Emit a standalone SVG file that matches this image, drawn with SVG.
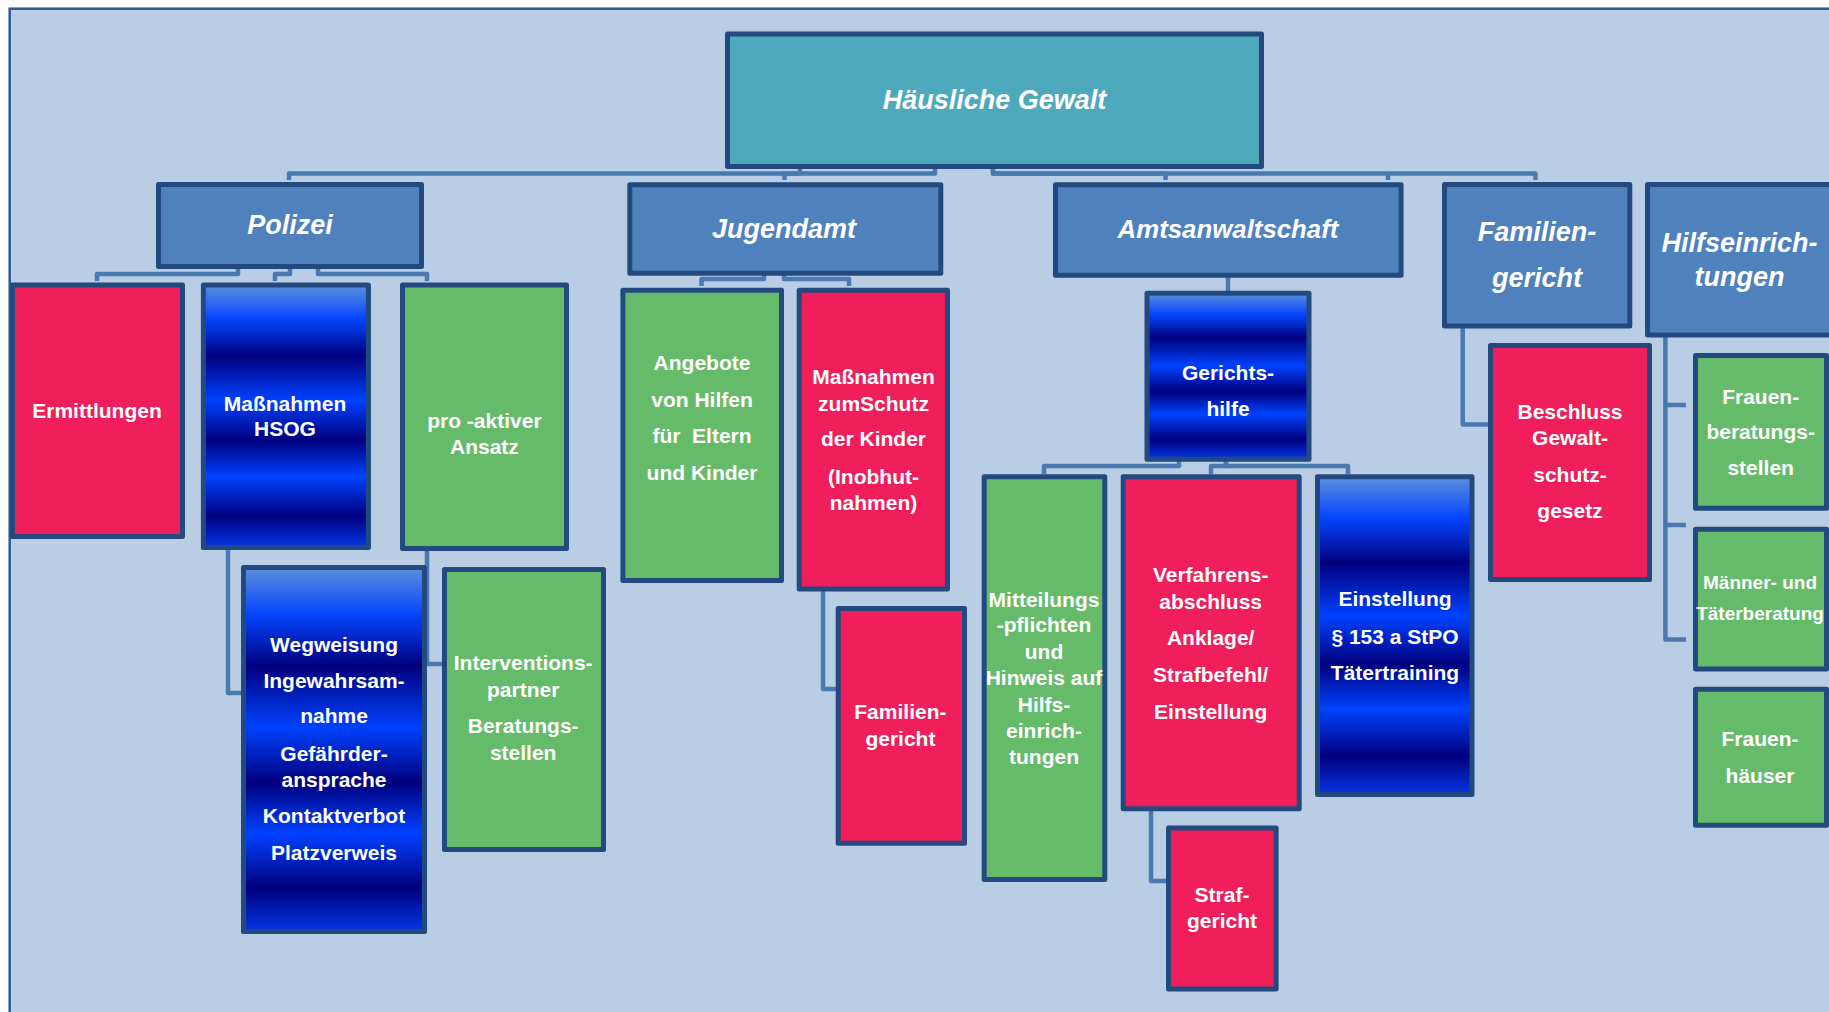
<svg xmlns="http://www.w3.org/2000/svg" width="1829" height="1012" viewBox="0 0 1829 1012">
<defs>
<linearGradient id="ocean" x1="0" y1="0" x2="0" y2="1">
<stop offset="0" stop-color="#5C90DC"/>
<stop offset="0.13" stop-color="#0545FF"/>
<stop offset="0.27" stop-color="#00007E"/>
<stop offset="0.44" stop-color="#0042FF"/>
<stop offset="0.59" stop-color="#00007E"/>
<stop offset="0.73" stop-color="#0042FF"/>
<stop offset="0.88" stop-color="#00007E"/>
<stop offset="1" stop-color="#0536E6"/>
</linearGradient>
<style>
.bg{fill:#B9CDE4;stroke:#2D5A95;stroke-width:2.5}
.box{stroke:#224A7E;stroke-width:5;stroke-linejoin:round}
.root{fill:#4EA9BD}
.lvl{fill:#4F81BD}
.red{fill:#F01E5A}
.green{fill:#66BB6A}
.grad{fill:url(#ocean)}
.conn{fill:none;stroke:#4A78B1;stroke-width:4.5;stroke-linejoin:round}
.t{font-family:'Liberation Sans',Arial,sans-serif;font-weight:bold;fill:#FFFFFF;text-anchor:middle;font-size:21px}
.h{font-style:italic;font-size:27px}
</style>
</defs>
<rect x="0" y="0" width="1829" height="1012" fill="#FFFFFF"/>
<rect class="bg" x="9.7" y="8.7" width="1830" height="1010"/>

<g id="connectors">
<path class="conn" d="M289 180 V173.5 H935 V168"/>
<path class="conn" d="M784.5 180 V173.5 H800 V168"/>
<path class="conn" d="M1165.5 180 V173.5 H993 V168"/>
<path class="conn" d="M993 168 V173.5 H1535.5 V180"/>
<path class="conn" d="M1388 173.5 V180"/>
<path class="conn" d="M97 281 V274 H238 V268"/>
<path class="conn" d="M275 281 V274 H290 V268"/>
<path class="conn" d="M318 268 V274 H427 V281"/>
<path class="conn" d="M701.5 286 V279 H764 V274"/>
<path class="conn" d="M784 274 V279 H849 V286"/>
<path class="conn" d="M1228 276 V292"/>
<path class="conn" d="M1044 474 V466 H1179 V460"/>
<path class="conn" d="M1211 474 V466 H1226 V460"/>
<path class="conn" d="M1226 460 V466 H1348 V474"/>
<path class="conn" d="M228 549 V693 H243"/>
<path class="conn" d="M427 550 V664 H444"/>
<path class="conn" d="M823 590 V689 H838"/>
<path class="conn" d="M1151 810 V881 H1168"/>
<path class="conn" d="M1462.7 327 V424.6 H1489"/>
<path class="conn" d="M1665.4 336 V639.5 H1686"/>
<path class="conn" d="M1665.4 405 H1686"/>
<path class="conn" d="M1665.4 525 H1686"/>
</g>

<g id="root">
<rect class="box root" x="727.5" y="34" width="534" height="132.5"/>
<text class="t h" x="994.5" y="108.5">Häusliche Gewalt</text>
</g>

<g id="polizei">
<rect class="box lvl" x="158.5" y="184.5" width="263" height="82"/>
<text class="t h" x="290" y="234" font-size="26.5">Polizei</text>
</g>
<g id="jugendamt">
<rect class="box lvl" x="629.8" y="184.8" width="311" height="88.4"/>
<text class="t h" x="784" y="237.5">Jugendamt</text>
</g>
<g id="amtsanwaltschaft">
<rect class="box lvl" x="1055.5" y="184.8" width="345.6" height="90.4"/>
<text class="t h" x="1228" y="238.3" style="font-size:25.8px">Amtsanwaltschaft</text>
</g>
<g id="familiengericht">
<rect class="box lvl" x="1444.5" y="184.5" width="185.3" height="141.6"/>
<text class="t h"><tspan x="1537" y="241">Familien-</tspan><tspan x="1537" y="287">gericht</tspan></text>
</g>
<g id="hilfseinrichtungen">
<rect class="box lvl" x="1647.5" y="184.5" width="185" height="150.5"/>
<text class="t h"><tspan x="1739.5" y="252">Hilfseinrich-</tspan><tspan x="1739.5" y="286">tungen</tspan></text>
</g>

<g id="ermittlungen">
<rect class="box red" x="12.5" y="285" width="170" height="251.5"/>
<text class="t" x="97" y="418">Ermittlungen</text>
</g>
<g id="massnahmen-hsog">
<rect class="box grad" x="203.4" y="285" width="165" height="262.5"/>
<text class="t"><tspan x="285" y="410.7">Maßnahmen</tspan><tspan x="285" y="436.4">HSOG</tspan></text>
</g>
<g id="pro-aktiver-ansatz">
<rect class="box green" x="402.5" y="285" width="164" height="263.5"/>
<text class="t"><tspan x="484.4" y="427.5">pro -aktiver</tspan><tspan x="484.4" y="453.6">Ansatz</tspan></text>
</g>
<g id="wegweisung">
<rect class="box grad" x="243.5" y="567.5" width="181" height="364"/>
<text class="t"><tspan x="334" y="651.7">Wegweisung</tspan><tspan x="334" y="688.3">Ingewahrsam-</tspan><tspan x="334" y="723.3">nahme</tspan><tspan x="334" y="760.7">Gefährder-</tspan><tspan x="334" y="787.3">ansprache</tspan><tspan x="334" y="823.3">Kontaktverbot</tspan><tspan x="334" y="860">Platzverweis</tspan></text>
</g>
<g id="interventionspartner">
<rect class="box green" x="444.5" y="569.5" width="159" height="280"/>
<text class="t"><tspan x="523.2" y="670">Interventions-</tspan><tspan x="523.2" y="697.3">partner</tspan><tspan x="523.2" y="733.3">Beratungs-</tspan><tspan x="523.2" y="760">stellen</tspan></text>
</g>

<g id="angebote">
<rect class="box green" x="622.9" y="290.2" width="158.6" height="290.3"/>
<text class="t" xml:space="preserve"><tspan x="702" y="369.6">Angebote</tspan><tspan x="702" y="407">von Hilfen</tspan><tspan x="702" y="443">für  Eltern</tspan><tspan x="702" y="479.6">und Kinder</tspan></text>
</g>
<g id="schutz-der-kinder">
<rect class="box red" x="799.2" y="290.2" width="148.3" height="298.7"/>
<text class="t"><tspan x="873.5" y="384">Maßnahmen</tspan><tspan x="873.5" y="410.7">zumSchutz</tspan><tspan x="873.5" y="446.4">der Kinder</tspan><tspan x="873.5" y="484">(Inobhut-</tspan><tspan x="873.5" y="510">nahmen)</tspan></text>
</g>
<g id="familiengericht-jugendamt">
<rect class="box red" x="838.2" y="608.5" width="126.3" height="234.7"/>
<text class="t"><tspan x="900.4" y="719">Familien-</tspan><tspan x="900.4" y="745.7">gericht</tspan></text>
</g>

<g id="gerichtshilfe">
<rect class="box grad" x="1147" y="293.2" width="162" height="166"/>
<text class="t"><tspan x="1228" y="380">Gerichts-</tspan><tspan x="1228" y="416">hilfe</tspan></text>
</g>
<g id="mitteilungspflichten">
<rect class="box green" x="984.2" y="476.8" width="120.6" height="402.7"/>
<text class="t"><tspan x="1044" y="607">Mitteilungs</tspan><tspan x="1044" y="632.3">-pflichten</tspan><tspan x="1044" y="659">und</tspan><tspan x="1044" y="685">Hinweis auf</tspan><tspan x="1044" y="711.8">Hilfs-</tspan><tspan x="1044" y="738.4">einrich-</tspan><tspan x="1044" y="764">tungen</tspan></text>
</g>
<g id="verfahrensabschluss">
<rect class="box red" x="1123.2" y="476.8" width="176" height="332"/>
<text class="t"><tspan x="1210.7" y="581.6">Verfahrens-</tspan><tspan x="1210.7" y="608.5">abschluss</tspan><tspan x="1210.7" y="645">Anklage/</tspan><tspan x="1210.7" y="681.5">Strafbefehl/</tspan><tspan x="1210.7" y="719">Einstellung</tspan></text>
</g>
<g id="strafgericht">
<rect class="box red" x="1168.5" y="828.1" width="107.6" height="161"/>
<text class="t"><tspan x="1222" y="901.5">Straf-</tspan><tspan x="1222" y="928">gericht</tspan></text>
</g>
<g id="einstellung">
<rect class="box grad" x="1317.5" y="476.8" width="154.5" height="317.7"/>
<text class="t"><tspan x="1395" y="606.4">Einstellung</tspan><tspan x="1395" y="643.6">§ 153 a StPO</tspan><tspan x="1395" y="680">Tätertraining</tspan></text>
</g>

<g id="beschluss">
<rect class="box red" x="1490.5" y="345.5" width="159" height="234"/>
<text class="t"><tspan x="1570" y="418.6">Beschluss</tspan><tspan x="1570" y="445">Gewalt-</tspan><tspan x="1570" y="482">schutz-</tspan><tspan x="1570" y="518">gesetz</tspan></text>
</g>

<g id="frauenberatungsstellen">
<rect class="box green" x="1695.5" y="355.4" width="131" height="152.8"/>
<text class="t"><tspan x="1760.7" y="403.6">Frauen-</tspan><tspan x="1760.7" y="439">beratungs-</tspan><tspan x="1760.7" y="475">stellen</tspan></text>
</g>
<g id="maennerberatung">
<rect class="box green" x="1695.5" y="529.3" width="131" height="139.6"/>
<text class="t" style="font-size:19px"><tspan x="1760" y="588.6">Männer- und</tspan><tspan x="1760" y="619.6">Täterberatung</tspan></text>
</g>
<g id="frauenhaeuser">
<rect class="box green" x="1695.5" y="689.3" width="131" height="136"/>
<text class="t"><tspan x="1760" y="746.4">Frauen-</tspan><tspan x="1760" y="782.9">häuser</tspan></text>
</g>
</svg>
